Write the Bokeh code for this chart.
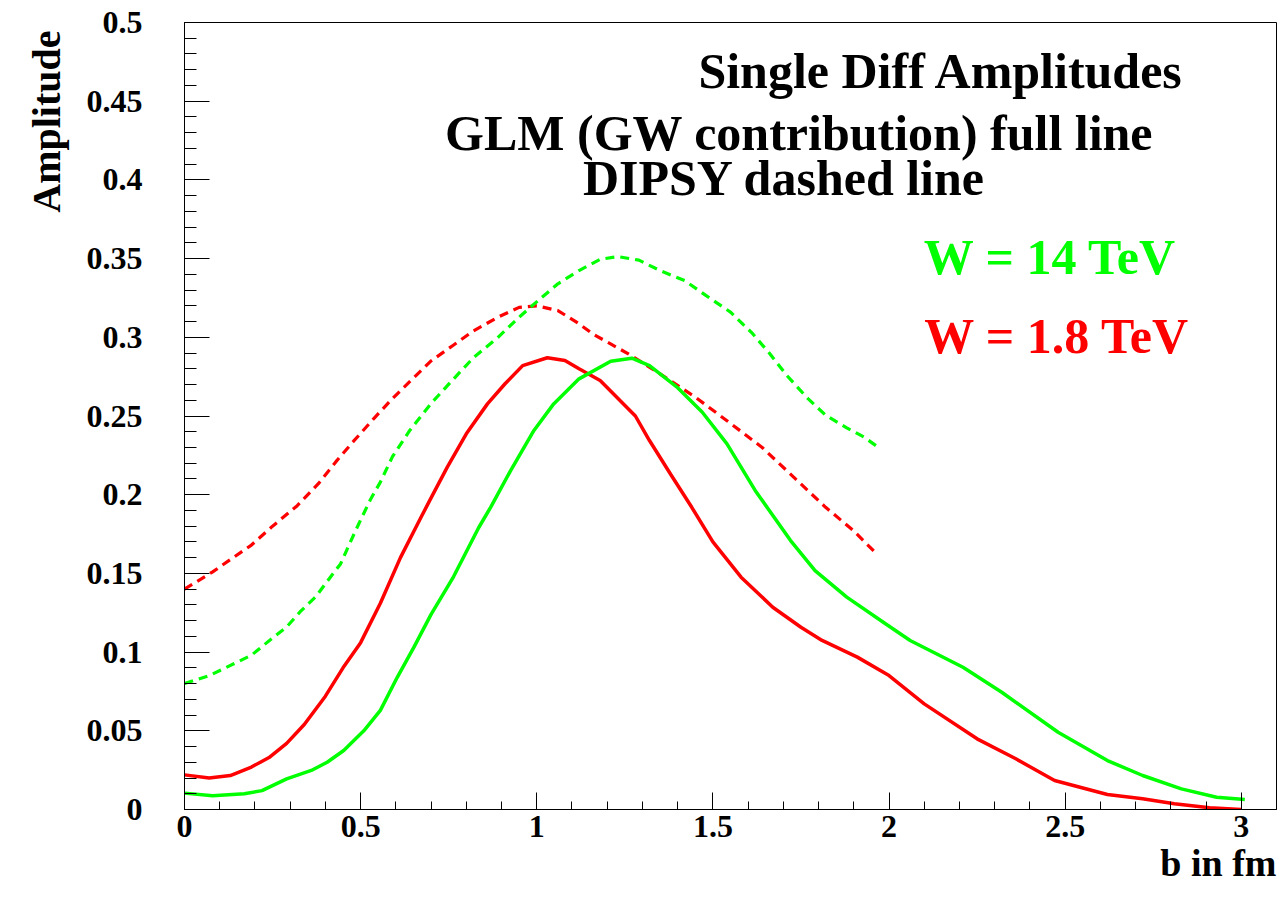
from bokeh.plotting import figure
from bokeh.models import Range1d, FixedTicker, CustomJSTickFormatter, Label, ColumnDataSource, Title
from bokeh.embed import file_html
from bokeh.resources import INLINE

# ---------------- data ----------------
# GLM (GW contribution), W = 1.8 TeV  (red, full line)
b_glm18 = [0.00, 0.07, 0.13, 0.19, 0.24, 0.29, 0.34, 0.40, 0.45, 0.50,
           0.556, 0.613, 0.67, 0.70, 0.746, 0.80, 0.86, 0.91, 0.96, 1.03,
           1.08, 1.12, 1.18, 1.28, 1.32, 1.38, 1.44, 1.50, 1.58, 1.67,
           1.75, 1.81, 1.91, 2.00, 2.10, 2.25, 2.36, 2.47, 2.62, 2.72,
           2.81, 2.91, 3.00]
a_glm18 = [0.022, 0.020, 0.0216, 0.027, 0.033, 0.042, 0.054, 0.072, 0.090, 0.106,
           0.131, 0.160, 0.185, 0.198, 0.2175, 0.2387, 0.2577, 0.2705, 0.282, 0.287,
           0.2853, 0.280, 0.2726, 0.250, 0.2344, 0.213, 0.192, 0.170, 0.1476, 0.1285,
           0.1158, 0.1074, 0.0968, 0.0851, 0.0671, 0.0449, 0.0322, 0.0184, 0.0095, 0.0068,
           0.0036, 0.0011, 0.0]

# GLM (GW contribution), W = 14 TeV  (green, full line)
b_glm14 = [0.00, 0.08, 0.17, 0.22, 0.29, 0.36, 0.405, 0.452, 0.509, 0.556,
           0.604, 0.651, 0.70, 0.764, 0.835, 0.869, 0.925, 0.992, 1.048, 1.12,
           1.21, 1.27, 1.32, 1.40, 1.47, 1.54, 1.62, 1.72, 1.79, 1.88,
           1.99, 2.06, 2.21, 2.32, 2.48, 2.62, 2.72, 2.83, 2.93, 3.01]
a_glm14 = [0.0104, 0.0087, 0.010, 0.012, 0.0195, 0.0248, 0.030, 0.0375, 0.050, 0.063,
           0.084, 0.103, 0.124, 0.148, 0.179, 0.192, 0.215, 0.2408, 0.2577, 0.2736,
           0.2848, 0.2867, 0.282, 0.268, 0.2524, 0.2323, 0.2027, 0.171, 0.1518, 0.1349,
           0.118, 0.1074, 0.0904, 0.0745, 0.0491, 0.0311, 0.0216, 0.0131, 0.0078, 0.0064]

# DIPSY, W = 1.8 TeV (red, dashed)
b_dip18 = [0.00, 0.08, 0.19, 0.25, 0.32, 0.38, 0.43, 0.48, 0.54, 0.59,
           0.64, 0.70, 0.76, 0.82, 0.89, 0.95, 1.00, 1.06, 1.12, 1.16,
           1.26, 1.35, 1.45, 1.54, 1.64, 1.73, 1.82, 1.90, 1.96]
a_dip18 = [0.140, 0.151, 0.168, 0.180, 0.193, 0.207, 0.221, 0.234, 0.249, 0.261,
           0.272, 0.285, 0.2945, 0.304, 0.3128, 0.319, 0.320, 0.317, 0.3086, 0.302,
           0.2895, 0.2768, 0.262, 0.247, 0.230, 0.211, 0.192, 0.177, 0.1635]

# DIPSY, W = 14 TeV (green, dashed)
b_dip14 = [0.00, 0.07, 0.14, 0.19, 0.25, 0.29, 0.33, 0.372, 0.414, 0.443,
           0.471, 0.50, 0.528, 0.556, 0.59, 0.64, 0.70, 0.76, 0.82, 0.89,
           0.95, 1.01, 1.06, 1.12, 1.18, 1.23, 1.29, 1.35, 1.42, 1.48,
           1.55, 1.61, 1.66, 1.71, 1.77, 1.82, 1.88, 1.93, 1.97]
a_dip14 = [0.080, 0.085, 0.0926, 0.098, 0.109, 0.116, 0.126, 0.135, 0.1476, 0.156,
           0.170, 0.184, 0.197, 0.208, 0.224, 0.241, 0.258, 0.2726, 0.287, 0.300,
           0.3128, 0.3245, 0.334, 0.3424, 0.3495, 0.3513, 0.349, 0.3424, 0.336, 0.3266,
           0.316, 0.303, 0.290, 0.2757, 0.261, 0.2505, 0.2425, 0.2365, 0.230]

x_ticks = [0, 0.5, 1, 1.5, 2, 2.5, 3]
x_tick_labels = ["0", "0.5", "1", "1.5", "2", "2.5", "3"]
y_ticks = [0, 0.05, 0.1, 0.15, 0.2, 0.25, 0.3, 0.35, 0.4, 0.45, 0.5]
y_tick_labels = ["0", "0.05", "0.1", "0.15", "0.2", "0.25", "0.3", "0.35", "0.4", "0.45", "0.5"]

RED = "#ff0000"
GREEN = "#00ff00"
FONT = "Liberation Serif"

# ---------------- figure ----------------
p = figure(width=1278, height=899, output_backend="svg", toolbar_location=None,
           x_range=Range1d(0, 3.1), y_range=Range1d(0, 0.5),
           min_border_left=184, min_border_right=2, min_border_top=22, min_border_bottom=90,
           background_fill_color="white", border_fill_color="white")
p.xgrid.visible = False
p.ygrid.visible = False
p.outline_line_color = "black"
p.outline_line_width = 1

fmt_code = """
let i = 0, best = 1e9;
for (let k = 0; k < tk.length; k++) {
  const d = Math.abs(tk[k] - tick);
  if (d < best) { best = d; i = k; }
}
return lb[i];
"""

xa = p.xaxis[0]
xa.ticker = FixedTicker(ticks=x_ticks, minor_ticks=[i * 0.1 for i in range(32)])
xa.formatter = CustomJSTickFormatter(args=dict(tk=x_ticks, lb=x_tick_labels), code=fmt_code)
xa.major_tick_in = 17
xa.major_tick_out = 0
xa.minor_tick_in = 8
xa.minor_tick_out = 0
xa.major_label_standoff = 6

ya = p.yaxis[0]
ya.ticker = FixedTicker(ticks=y_ticks, minor_ticks=[i * 0.01 for i in range(51)])
ya.formatter = CustomJSTickFormatter(args=dict(tk=y_ticks, lb=y_tick_labels), code=fmt_code)
ya.major_tick_in = 25
ya.major_tick_out = 0
ya.minor_tick_in = 12
ya.minor_tick_out = 0
ya.major_label_standoff = 42

for ax in (xa, ya):
    ax.axis_line_color = "black"
    ax.major_tick_line_color = "black"
    ax.minor_tick_line_color = "black"
    ax.major_label_text_font = FONT
    ax.major_label_text_font_style = "bold"
    ax.major_label_text_font_size = "32px"
    ax.major_label_text_color = "black"

# axis titles (ROOT style: at the far end of each axis)
p.add_layout(Title(text="b in fm", align="right", text_font=FONT, text_font_style="bold",
                   text_font_size="38px", text_color="black", standoff=0, offset=0), "below")
p.add_layout(Title(text="Amplitude", align="right", text_font=FONT, text_font_style="bold",
                   text_font_size="40px", text_color="black", standoff=30, offset=8), "left")

# ---------------- curves ----------------
p.line(x="b", y="a", source=ColumnDataSource(dict(b=b_dip18, a=a_dip18)),
       line_color=RED, line_width=3.2, line_dash="9 6")
p.line(x="b", y="a", source=ColumnDataSource(dict(b=b_dip14, a=a_dip14)),
       line_color=GREEN, line_width=3.2, line_dash="9 6")
p.line(x="b", y="a", source=ColumnDataSource(dict(b=b_glm18, a=a_glm18)),
       line_color=RED, line_width=3.5)
p.line(x="b", y="a", source=ColumnDataSource(dict(b=b_glm14, a=a_glm14)),
       line_color=GREEN, line_width=3.5)

# ---------------- texts ----------------
def add_label(x, y, text, size, color="black", align="center"):
    p.add_layout(Label(x=x, y=y, text=text, text_font=FONT, text_font_style="bold",
                       text_font_size=size, text_color=color, text_align=align,
                       text_baseline="alphabetic"))

add_label(2.149, 0.4695, "Single Diff Amplitudes", "50px")
add_label(1.763, 0.4301, "GLM  (GW contribution) full line", "50px")
add_label(1.703, 0.4015, "DIPSY dashed line", "50px")
add_label(2.458, 0.3507, "W = 14 TeV", "50px", color=GREEN)
add_label(2.477, 0.3011, "W = 1.8 TeV", "50px", color=RED)

open("out.html", "w").write(file_html(p, INLINE))
